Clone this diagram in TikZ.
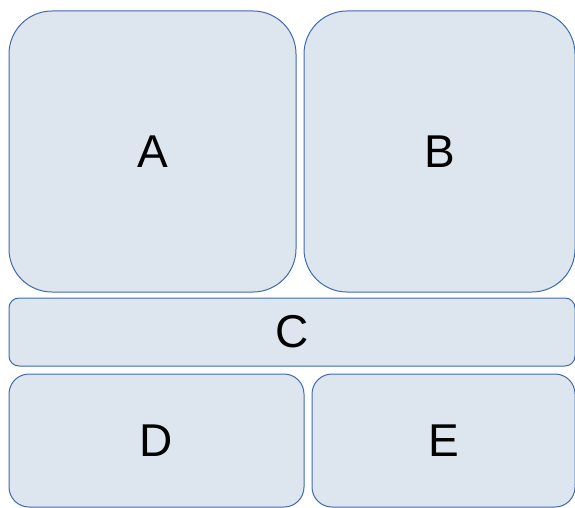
\documentclass[tikz,border=0pt]{standalone}
\usepackage{fontspec}
\setmainfont{Liberation Sans}
\usepackage{tikz}
\usetikzlibrary{positioning}
\definecolor{panelfill}{RGB}{221,229,239}
\definecolor{paneldraw}{RGB}{64,106,174}
\tikzset{
  panel/.style={draw=paneldraw, fill=panelfill, line width=1pt, rectangle, inner sep=0pt, font=\fontsize{46}{50}\selectfont},
  bigpanel/.style={panel, rounded corners=43pt, minimum height=281pt},
  smallpanel/.style={panel, rounded corners=20pt, minimum height=133pt},
}
\begin{document}
\begin{tikzpicture}[x=1pt,y=-1pt]
\useasboundingbox (0,0) rectangle (575,508);
\node[bigpanel, minimum width=287pt] (A) at (152.5,151.5) {A};
\node[bigpanel, minimum width=271pt] (B) at (439.5,151.5) {B};
\node[panel, rounded corners=10pt, minimum width=566pt, minimum height=68pt] (C) at (292,332) {C};
\node[smallpanel, minimum width=295pt] (D) at (156.5,440.5) {D};
\node[smallpanel, minimum width=263pt] (E) at (443.5,440.5) {E};
\end{tikzpicture}
\end{document}
